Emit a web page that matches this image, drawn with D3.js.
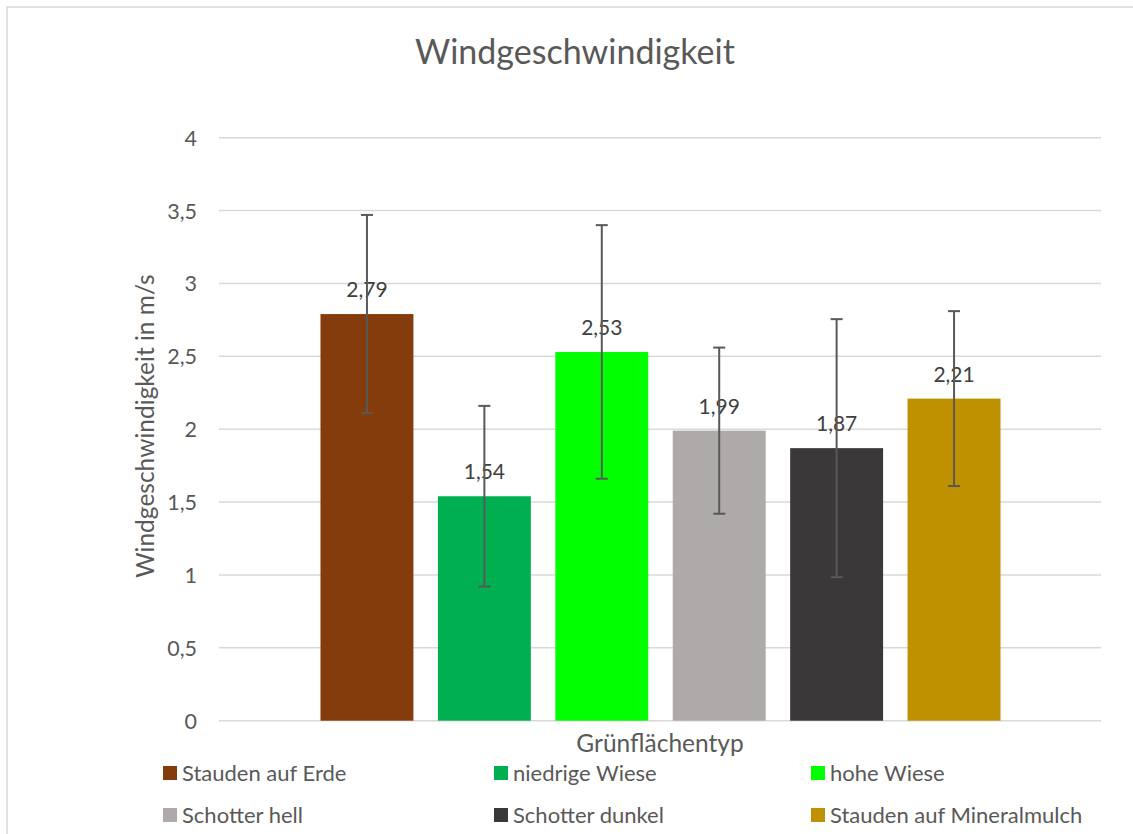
<!DOCTYPE html>
<html><head><meta charset="utf-8">
<script src="https://cdn.jsdelivr.net/npm/d3@7"></script>
<style>body{margin:0;background:#fff}svg{display:block}text{font-family:Lato,"Noto Sans",sans-serif}</style>
</head><body><svg id="c" width="1133" height="834"></svg>
<script>
const series = ["Stauden auf Erde","niedrige Wiese","hohe Wiese","Schotter hell","Schotter dunkel","Stauden auf Mineralmulch"];
const values = [2.79,1.54,2.53,1.99,1.87,2.21];
const errors = [0.68,0.62,0.87,0.57,0.885,0.60];
const colors = ["#843C0C","#00B050","#00FF00","#AEAAAA","#3A3838","#BF9000"];
const yTicks = [0,0.5,1,1.5,2,2.5,3,3.5,4];
const fmt = v => String(v).replace(".", ",");

const svg = d3.select("#c");
svg.append("rect").attr("x",7).attr("y",7).attr("width",1140).attr("height",840)
  .attr("fill","#fff").attr("stroke","#D9D9D9").attr("stroke-width",1.5);

const y = d3.scaleLinear().domain([0,4]).range([720.7,137.7]);
const x = d3.scaleBand().domain(series).range([308.25,1012.75]).paddingInner(24.5/117.5).paddingOuter(12.25/117.5);
const left = 219, right = 1101;

const grid = svg.append("g");
grid.selectAll("line").data(yTicks).join("line")
  .attr("x1",left).attr("x2",right).attr("y1",d=>y(d)).attr("y2",d=>y(d))
  .attr("stroke","#D9D9D9").attr("stroke-width",1.5);

const yAxis = svg.append("g").attr("transform",`translate(${left},0)`)
  .call(d3.axisLeft(y).tickValues(yTicks).tickFormat(fmt).tickSize(0).tickPadding(22));
yAxis.select(".domain").remove();
yAxis.selectAll("text").attr("font-size",21.5).attr("fill","#595959").attr("font-family","Lato,'Noto Sans',sans-serif").attr("dy","0.35em");

svg.append("g").selectAll("rect").data(series).join("rect")
  .attr("x",d=>x(d)).attr("width",x.bandwidth())
  .attr("y",(d,i)=>y(values[i])).attr("height",(d,i)=>y(0)-y(values[i]))
  .attr("fill",(d,i)=>colors[i]);

// data labels
svg.append("g").selectAll("text").data(series).join("text")
  .attr("x",d=>x(d)+x.bandwidth()/2).attr("y",(d,i)=>y(values[i])-17)
  .attr("text-anchor","middle").attr("font-size",21).attr("fill","#404040")
  .text((d,i)=>fmt(values[i]));

// error bars
const eb = svg.append("g").attr("stroke","#595959").attr("stroke-width",2);
series.forEach((s,i)=>{
  const cx = x(s)+x.bandwidth()/2, t = y(values[i]+errors[i]), b = y(values[i]-errors[i]);
  eb.append("line").attr("x1",cx).attr("x2",cx).attr("y1",t).attr("y2",b);
  eb.append("line").attr("x1",cx-6).attr("x2",cx+6).attr("y1",t).attr("y2",t);
  eb.append("line").attr("x1",cx-6).attr("x2",cx+6).attr("y1",b).attr("y2",b);
});

svg.append("text").attr("x",575).attr("y",64).attr("text-anchor","middle")
  .attr("font-size",34).attr("fill","#595959").text("Windgeschwindigkeit");
svg.append("text").attr("transform","translate(154,426) rotate(-90)").attr("text-anchor","middle")
  .attr("font-size",24.5).attr("fill","#595959").text("Windgeschwindigkeit in m/s");
svg.append("text").attr("x",660).attr("y",752).attr("text-anchor","middle")
  .attr("font-size",24.5).attr("fill","#595959").text("Grünflächentyp");

const legX = [163,494,811], legY = [773,815];
const lg = svg.append("g").selectAll("g").data(series).join("g")
  .attr("transform",(d,i)=>`translate(${legX[i%3]},${legY[Math.floor(i/3)]})`);
lg.append("rect").attr("x",0).attr("y",-7).attr("width",14).attr("height",14).attr("fill",(d,i)=>colors[i]);
lg.append("text").attr("x",19).attr("y",0).attr("dy","0.35em").attr("font-size",22).attr("fill","#595959").text(d=>d);
</script></body></html>
